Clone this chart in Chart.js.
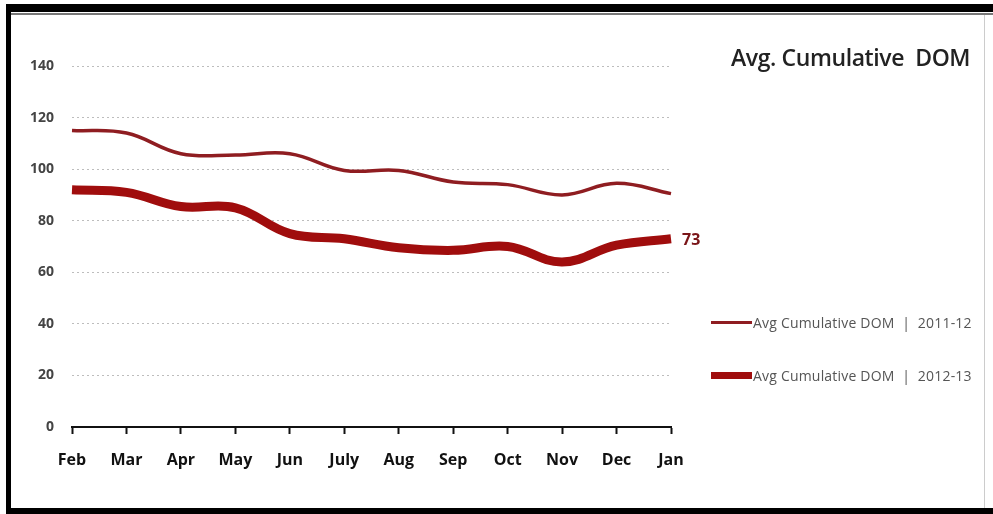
<!DOCTYPE html>
<html>
<head>
<meta charset="utf-8">
<script src="https://cdn.jsdelivr.net/npm/chart.js@4.4.1/dist/chart.umd.min.js"></script>
<style>
    html, body { margin: 0; padding: 0; background: #fff; }
    body { width: 993px; height: 514px; position: relative; overflow: hidden; font-family: 'Open Sans', sans-serif; }
    #frame { position: absolute; left: 6px; top: 4px; width: 982px; height: 496px; border-left: 5px solid #000; border-top: 8px solid #000; border-bottom: 6px solid #000; }
    #innerLine { position: absolute; left: 11px; top: 13px; width: 982px; height: 2px; background: #777; }
    #rightLine { position: absolute; left: 984px; top: 15px; width: 1px; height: 493px; background: #ccc; }
    #domChart { position: absolute; left: 0; top: 0; }
    .title { position: absolute; left: 731px; top: 41px; font-size: 23px; font-weight: 600; color: #222; letter-spacing: -0.4px; }
    .leg { position: absolute; left: 711px; height: 20px; display: flex; align-items: center; font-size: 14px; color: #555; letter-spacing: 0.2px; }
    .leg span.sw { display: inline-block; width: 41px; margin-right: 1px; }
</style>
</head>
<body>
<div id="frame"></div>
<div id="innerLine"></div>
<div id="rightLine"></div>
<canvas id="domChart" width="993" height="514"></canvas>
<div class="title">Avg. Cumulative&nbsp; DOM</div>
<div class="leg" style="top:312px"><span class="sw" style="height:3px;background:#8f1d21"></span>Avg Cumulative DOM &nbsp;|&nbsp; 2011-12</div>
<div class="leg" style="top:365px"><span class="sw" style="height:7px;background:#a00d0d"></span>Avg Cumulative DOM &nbsp;|&nbsp; 2012-13</div>
<script>
    const months = ['Feb', 'Mar', 'Apr', 'May', 'Jun', 'July', 'Aug', 'Sep', 'Oct', 'Nov', 'Dec', 'Jan'];
    const dom2011 = [115, 114, 106, 105.5, 106, 99.5, 99.5, 95, 94, 90, 94.5, 90.5];
    const dom2012 = [92, 91, 85.5, 85, 75, 73, 69.5, 68.5, 70, 64, 70.5, 73];
    const yTicks = [0, 20, 40, 60, 80, 100, 120, 140];

    // draws the "73" next to the last point of the 2012-13 line
    const lastValueLabel = {
        id: 'lastValueLabel',
        afterDatasetsDraw(chart) {
            const meta = chart.getDatasetMeta(1);
            const pt = meta.data[meta.data.length - 1];
            const ctx = chart.ctx;
            ctx.save();
            ctx.font = 'bold 16px "Open Sans"';
            ctx.fillStyle = '#7a1518';
            ctx.textBaseline = 'middle';
            ctx.fillText(String(dom2012[dom2012.length - 1]), pt.x + 11, pt.y + 2);
            ctx.restore();
        }
    };

    new Chart(document.getElementById('domChart'), {
        type: 'line',
        data: {
            labels: months,
            datasets: [
                {
                    label: 'Avg Cumulative DOM | 2011-12',
                    data: dom2011,
                    borderColor: '#8f1d21',
                    borderWidth: 3.5,
                    tension: 0.4,
                    pointRadius: 0
                },
                {
                    label: 'Avg Cumulative DOM | 2012-13',
                    data: dom2012,
                    borderColor: '#a00d0d',
                    borderWidth: 9,
                    tension: 0.4,
                    pointRadius: 0
                }
            ]
        },
        options: {
            responsive: false,
            animation: false,
            layout: { padding: { left: 20, right: 322, top: 66, bottom: 20 } },
            plugins: {
                legend: { display: false },
                tooltip: { enabled: false }
            },
            scales: {
                x: {
                    offset: false,
                    border: { display: true, color: '#111', width: 2 },
                    grid: { drawOnChartArea: false, drawTicks: true, tickLength: 7, tickColor: '#111', tickWidth: 2 },
                    ticks: { color: '#111', padding: 17, font: { family: 'Open Sans', size: 16, weight: 'bold' } },
                    afterFit(axis) { axis.height = 67; }
                },
                y: {
                    min: 0,
                    max: 140,
                    afterBuildTicks(axis) { axis.ticks = yTicks.map(v => ({ value: v })); },
                    border: { display: false, dash: [2, 3] },
                    grid: {
                        drawTicks: false,
                        color: ctx => ctx.tick && ctx.tick.value === 0 ? 'rgba(0,0,0,0)' : '#bdbdbd',
                        lineWidth: 1
                    },
                    ticks: { color: '#444', padding: 18, font: { family: 'Open Sans', size: 14, weight: 'bold' } },
                    afterFit(axis) { axis.width = 52; }
                }
            }
        },
        plugins: [lastValueLabel]
    });
</script>
</body>
</html>
